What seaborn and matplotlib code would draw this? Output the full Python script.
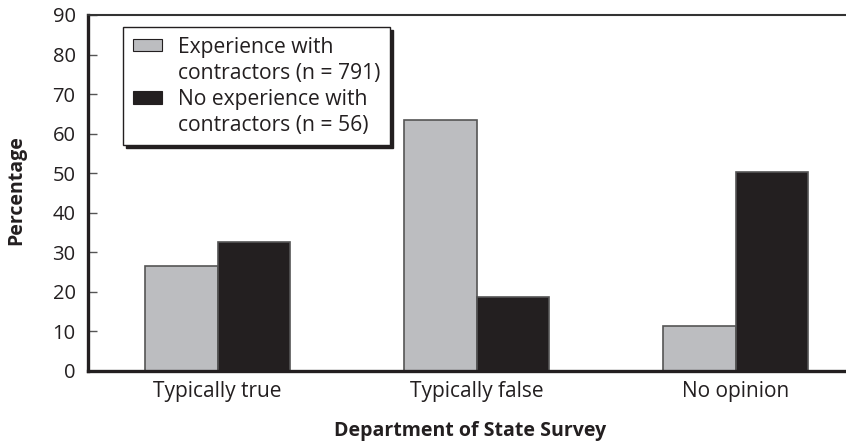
import matplotlib
matplotlib.use("Agg")
import matplotlib.pyplot as plt
from matplotlib.patches import Rectangle
import seaborn as sns
import pandas as pd

categories = ["Typically true", "Typically false", "No opinion"]
groups = ["Experience with\ncontractors (n = 791)", "No experience with\ncontractors (n = 56)"]
experienced = [26.5, 63.5, 11.5]
not_experienced = [32.5, 18.7, 50.3]
y_ticks = [0, 10, 20, 30, 40, 50, 60, 70, 80, 90]

df = pd.DataFrame({
    "category": categories * 2,
    "group": [groups[0]] * 3 + [groups[1]] * 3,
    "pct": experienced + not_experienced,
})

sns.set_theme(style="white")
plt.rcParams["font.family"] = ["Open Sans", "DejaVu Sans"]

GREY = "#bcbdc0"
BLACK = "#231f20"
W, H = 846, 443

fig = plt.figure(figsize=(W / 100, H / 100), dpi=100)
ax = fig.add_axes([88 / W, 1 - 371 / H, 1.0, (371 - 15) / H])

sns.barplot(data=df, x="category", y="pct", hue="group", order=categories,
            hue_order=groups, palette=[GREY, BLACK], width=0.56, gap=0,
            edgecolor="#555555", linewidth=1.2, saturation=1, ax=ax)

# category spacing of ~259 px across an axes that runs off the right edge
ax.set_xlim(-0.5, -0.5 + W / 259.0)
ax.set_ylim(0, 90)
ax.set_yticks(y_ticks)

for side in ["left", "bottom"]:
    ax.spines[side].set_color(BLACK)
    ax.spines[side].set_linewidth(2.4)
ax.spines["top"].set_color("#333333")
ax.spines["top"].set_linewidth(1.5)
ax.spines["right"].set_visible(False)

ax.tick_params(axis="y", direction="in", length=6.5, width=1.0, color="#555555",
               pad=9, labelsize=14.5, labelcolor=BLACK, left=True)
ax.tick_params(axis="x", length=0, pad=7, labelsize=15, labelcolor=BLACK)

ax.set_ylabel("Percentage", fontsize=14, fontweight="bold", color=BLACK)
ax.set_xlabel("Department of State Survey", fontsize=14, fontweight="bold", color=BLACK)
ax.yaxis.set_label_coords(26 / W, 1 - 190 / H, transform=fig.transFigure)
ax.xaxis.set_label_coords(470 / W, 1 - 421 / H, transform=fig.transFigure)

# legend: swatch beside the first line of each two-line label
handles, _ = ax.get_legend_handles_labels()
leg_handles, leg_labels = [], []
for h, g in zip(handles, groups):
    first, second = g.split("\n")
    leg_handles += [h, Rectangle((0, 0), 1, 1, fill=False, edgecolor="none", visible=False)]
    leg_labels += [first, second]

leg = ax.legend(leg_handles, leg_labels, loc="upper left",
                bbox_to_anchor=(123 / W, 1 - 27 / H),
                bbox_transform=fig.transFigure, frameon=True, fancybox=False,
                shadow={"color": BLACK, "alpha": 1}, fontsize=15.2,
                handlelength=1.4, handleheight=0.55, handletextpad=0.75,
                labelspacing=0.24, borderpad=0.45, borderaxespad=0,
                labelcolor=BLACK)
leg.get_frame().set_edgecolor(BLACK)
leg.get_frame().set_linewidth(1.0)
for h in leg.legend_handles:
    if h.get_visible():
        h.set_edgecolor(BLACK)
        h.set_linewidth(0.8)

fig.savefig("out.png", dpi=100)
